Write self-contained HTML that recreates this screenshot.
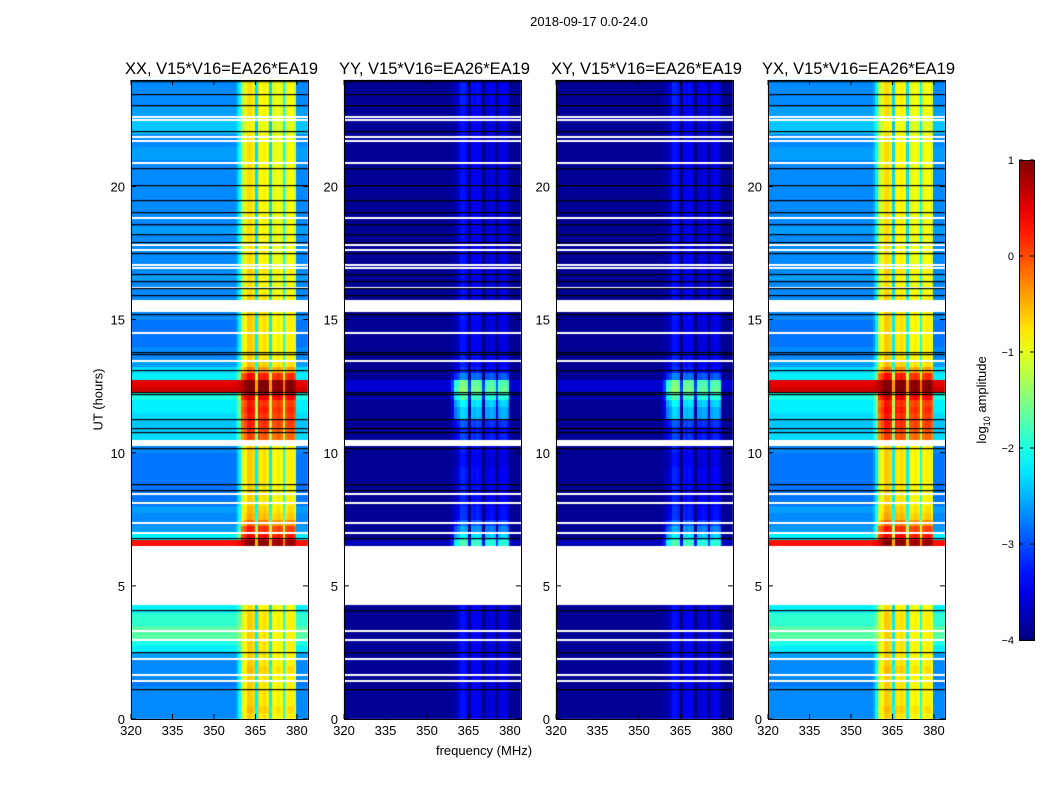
<!DOCTYPE html>
<html><head><meta charset="utf-8">
<style>
body{margin:0;background:#fff;font-family:"Liberation Sans",sans-serif;}
#root{position:relative;width:1050px;height:800px;background:#fff;overflow:hidden;}
.t{position:absolute;white-space:nowrap;color:#000;}
canvas{position:absolute;}
</style></head>
<body>
<div id="root">
<div class="t" style="left:489px;top:14px;width:200px;text-align:center;font-size:13px;">2018-09-17 0.0-24.0</div>
<div class="t" style="left:384px;top:743px;width:200px;text-align:center;font-size:13px;">frequency (MHz)</div>
<div class="t" style="left:48px;top:392px;width:100px;text-align:center;font-size:13px;transform:rotate(-90deg);">UT (hours)</div>
<svg id="ov" width="1050" height="800" style="position:absolute;left:0;top:0;"></svg>
</div>
<script>
// ---- data ----
const hours = [0,24];
const freqRange = [320,384];
const freqTicks = [320,335,350,365,380];
const hourTicks = [0,5,10,15,20];
const cbTicks = [1,0,-1,-2,-3,-4];
const panelTitles = ["XX, V15*V16=EA26*EA19","YY, V15*V16=EA26*EA19","XY, V15*V16=EA26*EA19","YX, V15*V16=EA26*EA19"];
const N = null;
// per 0.25h row, off-band log10 amplitude
const bgXX = [-2.7,-2.7,-2.7,-2.7, -2.7,-2.8,-2.7,-2.7, -2.7,-2.6,-2.2,-2.0, -1.7,-1.7,-1.9,-1.9,
 -2.2,N,N,N, N,N,N,N, N,N,0.3,-2.2, -2.6,-2.7,-2.7,-2.6, -2.8,-2.8,-2.8,-2.8, -2.8,-2.8,-2.8,-2.8,
 -2.7,N,-2.3,-2.4, -2.4,-2.3,-2.2,-2.2, -2.0,0.6,0.5,-2.2, -2.3,-2.6,-2.7,-2.7, -2.8,-2.8,-2.8,-2.8,
 -2.7,N,N,-2.7, -2.7,-2.7,-2.6,-2.7, -2.7,-2.7,-2.7,-2.7, -2.7,-2.6,-2.7,-2.7, -2.7,-2.7,-2.7,-2.7,
 -2.7,-2.7,-2.7,-2.7, -2.6,-2.6,-2.7,-2.7, -2.4,-2.4,-2.6,-2.6, -2.7,-2.7,-2.7,-2.7];
const bandXX = [-0.9,-0.8,-0.9,-0.9, -0.9,-0.9,-0.9,-0.8, -0.9,-0.9,-0.9,-0.9, -0.9,-0.9,-0.9,-0.9,
 -1.0,N,N,N, N,N,N,N, N,N,0.8,0.2, 0.0,-0.4,-0.7,-0.8, -0.9,-0.9,-0.9,-0.9, -0.9,-0.9,-0.9,-0.9,
 -0.9,N,-0.2,-0.1, 0.0,0.0,0.1,0.0, 0.3,0.9,0.9,0.1, -0.5,-0.8,-0.9,-0.9, -0.9,-0.9,-0.9,-0.9,
 -0.9,N,N,-0.9, -1.0,-1.0,-1.0,-0.9, -1.0,-1.0,-1.0,-1.0, -1.0,-1.0,-1.0,-1.0, -1.0,-1.0,-1.0,-1.0,
 -1.0,-1.0,-1.0,-1.0, -1.0,-1.0,-1.0,-1.0, -1.1,-1.1,-1.0,-1.0, -1.0,-1.0,-1.0,-1.0];
const bgYY = [-3.9,-3.9,-3.9,-3.9, -3.9,-3.9,-3.9,-3.9, -3.9,-3.9,-3.9,-3.9, -3.9,-3.9,-3.9,-3.9,
 -3.9,N,N,N, N,N,N,N, N,N,-3.7,-3.9, -3.9,-3.9,-3.9,-3.9, -3.9,-3.9,-3.9,-3.9, -3.9,-3.9,-3.9,-3.9,
 -3.9,N,-3.9,-3.9, -3.9,-3.9,-3.9,-3.9, -3.8,-3.6,-3.6,-3.9, -3.9,-3.9,-3.9,-3.9, -3.9,-3.9,-3.9,-3.9,
 -3.9,N,N,-3.9, -3.9,-3.9,-3.9,-3.9, -3.9,-3.9,-3.9,-3.9, -3.9,-3.9,-3.9,-3.9, -3.9,-3.9,-3.9,-3.9,
 -3.9,-3.9,-3.9,-3.9, -3.9,-3.9,-3.9,-3.9, -3.9,-3.9,-3.9,-3.9, -3.9,-3.9,-3.9,-3.9];
const bandYY = [-3.6,-3.6,-3.6,-3.6, -3.6,-3.6,-3.6,-3.6, -3.6,-3.6,-3.6,-3.6, -3.6,-3.6,-3.6,-3.6,
 -3.6,N,N,N, N,N,N,N, N,N,-2.0,-2.4, -2.8,-3.1,-3.4,-3.4, -3.5,-3.5,-3.5,-3.5, -3.5,-3.5,-3.6,-3.6,
 -3.5,N,-3.3,-3.4, -3.2,-2.6,-2.6,-2.4, -2.0,-1.7,-1.8,-3.0, -3.4,-3.5,-3.5,-3.6, -3.6,-3.6,-3.6,-3.6,
 -3.5,N,N,-3.6, -3.6,-3.6,-3.6,-3.6, -3.6,-3.6,-3.6,-3.6, -3.6,-3.6,-3.6,-3.6, -3.6,-3.6,-3.6,-3.6,
 -3.6,-3.6,-3.6,-3.6, -3.6,-3.6,-3.6,-3.6, -3.6,-3.6,-3.6,-3.6, -3.5,-3.5,-3.5,-3.5];
const bgLevels = [bgXX,bgYY,bgYY,bgXX];
const bandLevels = [bandXX,bandYY,bandYY,bandXX];
// per 1 MHz channel (320..383): fraction of band signal, and channel offset
const chanShape = [0,0,0,0,0,0,0,0,0,0, 0,0,0,0,0,0,0,0,0,0, 0,0,0,0,0,0,0,0,0,0, 0,0,0,0,0,0,0,0,0.1,0.3,
 1,1,1,1,1,1,1,1,1,1, 1,1,1,1,1,1,1,1,1,1, 0,0,0,0];
const chanOffset = [0,0,0,0,0,0,0,0,0,0, 0,0,0,0,0,0,0,0,0,0, 0,0,0,0,0,0,0,0,0,0, 0,0,0,0,0,0,0,0,0,0,
 -0.2,0,0.3,0.3,0.2,-1.3,0.2,0.1,0.2,0.1, -1.3,0,0,0.1,0,-1.1,0,0.1,0.1,-0.1, 0,0,0,0];
const whiteLines = [22.6,22.5,21.85,21.7,20.9,18.8,17.8,17.6,17.06,16.95,16.2,14.5,13.45,8.45,8.1,7.35,6.97,3.3,2.95,2.25,1.67,1.43];
const blackLines = [23.95,23.48,23.06,22.08,20.7,20.06,19.5,19.05,18.6,18.2,17.9,17.5,16.7,16.45,16.17,15.94,15.2,13.8,13.7,13.12,12.3,12.2,11.25,10.94,10.78,10.16,8.84,8.6,6.8,4.08,2.52,1.12];

// ---- layout ----
const panelX = [131,344,556,768], PW = 177, PT = 80, PB = 719;
const xScale = (f,p)=> panelX[p] + (f-freqRange[0])/(freqRange[1]-freqRange[0])*PW;
const yScale = h => PB - (h-hours[0])/(hours[1]-hours[0])*(PB-PT);
const cbY = v => 640 - (v+4)/5*480;
function jet(v){
  let t=Math.max(0,Math.min(1,(v+4)/5));
  const c=x=>Math.round(255*Math.max(0,Math.min(1,1.5-Math.abs(x))));
  return `rgb(${c(4*t-3)},${c(4*t-2)},${c(4*t-1)})`;
}
const root=document.getElementById('root');
const NS='http://www.w3.org/2000/svg';
const ov=document.getElementById('ov');
function sv(tag,attrs,parent){const e=document.createElementNS(NS,tag);for(const k in attrs)e.setAttribute(k,attrs[k]);(parent||ov).appendChild(e);return e;}
const rowH = (hours[1]-hours[0])/bgXX.length;
for(let p=0;p<4;p++){
  const cv=document.createElement('canvas');
  cv.width=1050;cv.height=800;cv.style.left='0px';cv.style.top='0px';
  
  
  root.insertBefore(cv,ov);
  const ctx=cv.getContext('2d');
  for(let r=0;r<bgLevels[p].length;r++){
    const bg=bgLevels[p][r], bd=bandLevels[p][r];
    if(bg===null) continue;
    const y0=yScale((r+1)*rowH), y1=yScale(r*rowH);
    for(let c=0;c<chanShape.length;c++){
      const v=bg+chanShape[c]*(bd-bg)+chanShape[c]*chanOffset[c];
      const x0=xScale(freqRange[0]+c,p), x1=xScale(freqRange[0]+c+1,p);
      ctx.fillStyle=jet(v);
      ctx.fillRect(Math.floor(x0),Math.floor(y0),Math.ceil(x1)-Math.floor(x0),Math.ceil(y1)-Math.floor(y0));
    }
  }
  const x0=panelX[p], x1=panelX[p]+PW;
  ctx.fillStyle='#fff';
  whiteLines.forEach(h=>ctx.fillRect(x0,Math.round(yScale(h))-1,PW,2));
  ctx.fillStyle='#000';
  blackLines.forEach(h=>ctx.fillRect(x0,Math.round(yScale(h)),PW,1.2));
  sv('rect',{x:x0+0.5,y:PT+0.5,width:PW,height:PB-PT,fill:'none',stroke:'#000','stroke-width':1,});
  const tt=sv('text',{x:x0+PW/2+2,y:74,'text-anchor':'middle','font-size':16.5,'font-family':'Liberation Sans, sans-serif'});
  tt.textContent=panelTitles[p];
  
  
  freqTicks.forEach(f=>{
    const x=xScale(f,p);
    sv('line',{x1:x,x2:x,y1:PB,y2:PB-5,stroke:'#000'});
    sv('line',{x1:x,x2:x,y1:PT,y2:PT+5,stroke:'#000'});
    const tx=sv('text',{x:x,y:PB+16,'text-anchor':'middle','font-size':13,'font-family':'Liberation Sans, sans-serif'});
    tx.textContent=f;
    
    
  });
  hourTicks.forEach(h=>{
    const y=yScale(h);
    sv('line',{x1:x0,x2:x0+5,y1:y,y2:y,stroke:'#000'});
    sv('line',{x1:x1,x2:x1-5,y1:y,y2:y,stroke:'#000'});
    const ty=sv('text',{x:x0-6,y:y+5,'text-anchor':'end','font-size':13,'font-family':'Liberation Sans, sans-serif'});
    ty.textContent=h;
    
    
  });
}
// colorbar
const defs=sv('defs',{});
const g=sv('linearGradient',{id:'cbg',x1:0,y1:1,x2:0,y2:0},defs);
for(let i=0;i<=20;i++){sv('stop',{offset:i/20,'stop-color':jet(-4+5*i/20)},g);}
const cb=sv('rect',{x:1019.5,y:160.5,width:15,height:480,fill:'url(#cbg)',stroke:'#000'});


cbTicks.forEach(v=>{
  const y=cbY(v);
  sv('line',{x1:1019,x2:1023,y1:y,y2:y,stroke:'#000'});
  sv('line',{x1:1034,x2:1030,y1:y,y2:y,stroke:'#000'});
  const t=sv('text',{x:1014,y:y+4,'text-anchor':'end','font-size':11,'font-family':'Liberation Sans, sans-serif'});
  t.textContent=v<0?'\u2212'+(-v):v;
  
  
});
const cl=sv('text',{x:0,y:0,'text-anchor':'middle','font-size':13,'font-family':'Liberation Sans, sans-serif',transform:'translate(986,400) rotate(-90)'});
cl.innerHTML='log<tspan font-size="9" dy="4">10</tspan><tspan dy="-4"> amplitude</tspan>';


</script>
</body></html>
